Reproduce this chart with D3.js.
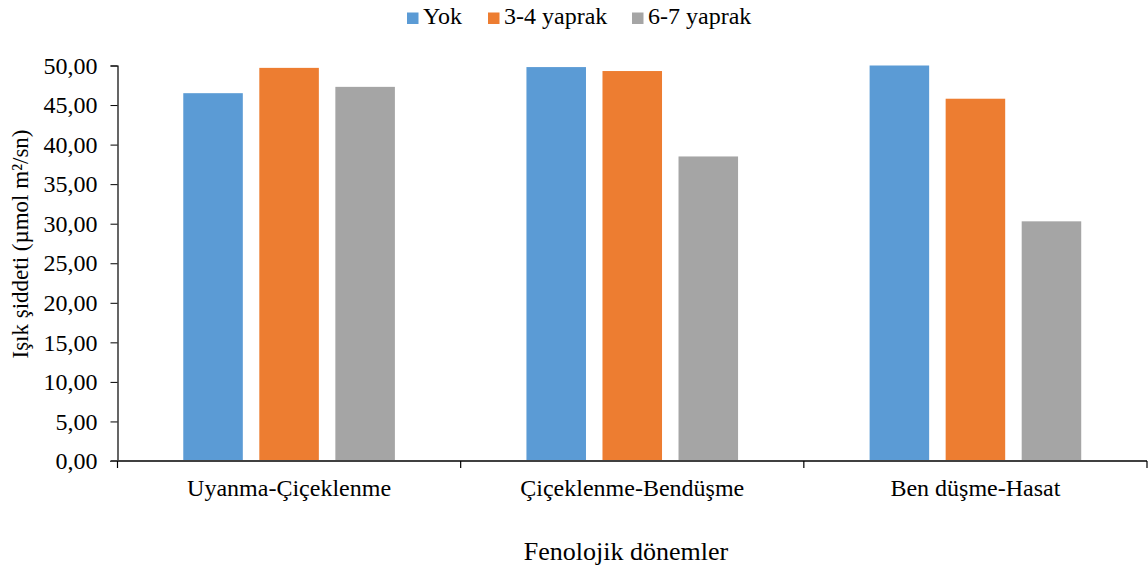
<!DOCTYPE html>
<html>
<head>
<meta charset="utf-8">
<script src="https://cdn.jsdelivr.net/npm/d3@7"></script>
<style>
  html, body { margin: 0; padding: 0; background: #fff; }
</style>
</head>
<body>
<svg id="chart" width="1148" height="569"></svg>
<script>
// Phenological periods (x categories)
const categories = ["Uyanma-Çiçeklenme", "Çiçeklenme-Bendüşme", "Ben düşme-Hasat"];
// Series: leaf removal treatments
const seriesNames = ["Yok", "3-4 yaprak", "6-7 yaprak"];
const yok        = [46.5, 49.8, 50.0];
const yaprak34   = [49.7, 49.3, 45.8];
const yaprak67   = [47.3, 38.5, 30.3];
const seriesValues = [yok, yaprak34, yaprak67];
const colors = ["#5B9BD5", "#ED7D31", "#A5A5A5"];
const yTicks = [0, 5, 10, 15, 20, 25, 30, 35, 40, 45, 50];

const FONT = '"Liberation Serif"';
const svg = d3.select("#chart");
const margin = { left: 117.5, right: 1147, top: 65.5, bottom: 461 };

const x0 = d3.scaleBand().domain(categories).range([margin.left, margin.right]).paddingInner(0).paddingOuter(0);
const x1 = d3.scaleBand().domain(seriesNames).range([0, x0.bandwidth()]).paddingInner(0.217).paddingOuter(0.865);
const y = d3.scaleLinear().domain([0, 50]).range([margin.bottom, margin.top]);

const fmt = d => d.toFixed(2).replace(".", ",");

// Bars
const groups = svg.append("g").selectAll("g")
  .data(categories)
  .join("g")
  .attr("transform", d => `translate(${x0(d)},0)`);

groups.selectAll("rect")
  .data((c, i) => seriesNames.map((s, j) => ({ s, v: seriesValues[j][i], j })))
  .join("rect")
  .attr("x", d => x1(d.s))
  .attr("width", x1.bandwidth())
  .attr("y", d => y(d.v))
  .attr("height", d => y(0) - y(d.v))
  .attr("fill", d => colors[d.j]);

// Y axis
const yAxis = svg.append("g")
  .attr("transform", `translate(${margin.left},0)`)
  .call(d3.axisLeft(y).tickValues(yTicks).tickFormat(fmt).tickSize(7).tickPadding(13))
  .attr("font-family", null)
  .attr("font-size", null);
yAxis.select(".domain").attr("stroke", "#000").attr("stroke-width", 1.2);
yAxis.selectAll(".tick line").attr("stroke", "#000").attr("stroke-width", 1);
yAxis.selectAll(".tick text")
  .style("font-size", "24px").attr("fill", "#000")
  .style("font-family", FONT);

// X axis with boundary ticks between categories
const xEdges = [margin.left, ...categories.map(c => x0(c) + x0.bandwidth())];
const xAxis = svg.append("g");
xAxis.append("line")
  .attr("x1", margin.left - 7).attr("x2", margin.right)
  .attr("y1", y(0)).attr("y2", y(0))
  .attr("stroke", "#404040").attr("stroke-width", 2);
xAxis.selectAll("line.tick")
  .data(xEdges)
  .join("line")
  .attr("class", "tick")
  .attr("x1", d => d).attr("x2", d => d)
  .attr("y1", y(0)).attr("y2", y(0) + 7)
  .attr("stroke", "#000").attr("stroke-width", 1.2);
xAxis.selectAll("text")
  .data(categories)
  .join("text")
  .attr("x", d => x0(d) + x0.bandwidth() / 2)
  .attr("y", 496)
  .attr("text-anchor", "middle")
  .style("font-family", FONT)
  .style("font-size", "24px")
  .attr("fill", "#000")
  .text(d => d);

// Axis titles
svg.append("text")
  .attr("x", 626).attr("y", 560)
  .attr("text-anchor", "middle")
  .style("font-family", FONT)
  .style("font-size", "26px")
  .attr("fill", "#000")
  .text("Fenolojik dönemler");

svg.append("text")
  .attr("transform", "translate(28,244) rotate(-90)")
  .attr("text-anchor", "middle")
  .style("font-family", FONT)
  .style("font-size", "23px")
  .attr("fill", "#000")
  .text("Işık şiddeti (µmol m²/sn)");

// Legend
const legendPos = [407, 488, 632];
const legend = svg.append("g").selectAll("g")
  .data(seriesNames)
  .join("g")
  .attr("transform", (d, i) => `translate(${legendPos[i]},0)`);
legend.append("rect")
  .attr("x", 0).attr("y", 12.5).attr("width", 11.5).attr("height", 11.5)
  .attr("fill", (d, i) => colors[i]);
legend.append("text")
  .attr("x", 16).attr("y", 24)
  .style("font-family", FONT)
  .style("font-size", "24px")
  .attr("fill", "#000")
  .text(d => d);
</script>
</body>
</html>
